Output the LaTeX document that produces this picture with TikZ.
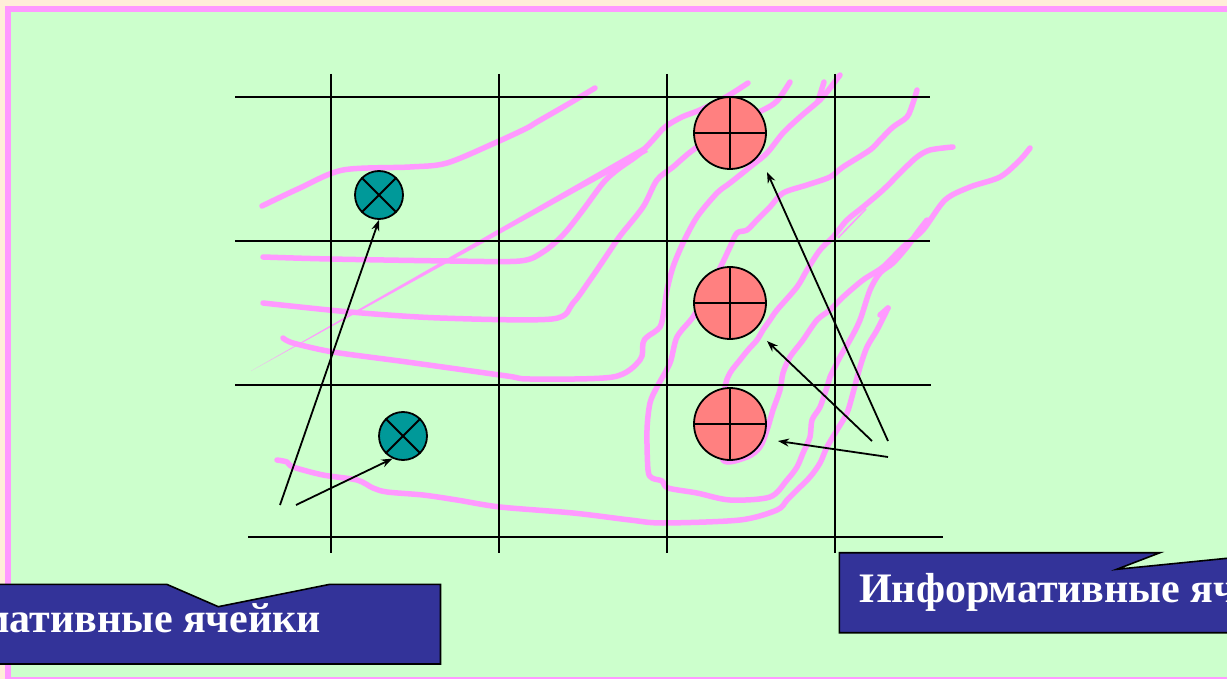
\documentclass[tikz,border=0pt]{standalone}
\usepackage{fontspec}
\setmainfont{Liberation Serif}
\usetikzlibrary{arrows.meta}
\definecolor{cream}{HTML}{FFEED8}
\definecolor{framepink}{HTML}{FF99FF}
\definecolor{bggreen}{HTML}{CCFFCC}
\definecolor{pinkline}{HTML}{FF99FF}
\definecolor{tealc}{HTML}{009999}
\definecolor{salmon}{HTML}{FF8080}
\definecolor{boxblue}{HTML}{333399}
\begin{document}
\begin{tikzpicture}[x=1pt,y=-1pt,
  gridline/.style={line width=2pt,black},
  pinkcurve/.style={pinkline,line width=5.5pt,line cap=round,line join=round},
  xcell/.style={circle,draw=black,line width=1.8pt,fill=tealc,minimum size=48pt,inner sep=0pt},
  pcell/.style={circle,draw=black,line width=1.8pt,fill=salmon,minimum size=72pt,inner sep=0pt},
  crossline/.style={line width=1.8pt,black},
  pointer/.style={line width=1.8pt,black,-{Stealth[length=11pt,width=8pt]}},
  callout/.style={fill=boxblue,draw=black,line width=1.6pt},
  calltext/.style={text=white,font=\fontsize{42}{50}\selectfont\bfseries,inner sep=0pt}
]
\clip (0,0) rectangle (1227,679);
% frame
\fill[cream] (0,0) rectangle (1227,679);
\fill[framepink] (5,6) rectangle (1227,679);
\fill[bggreen] (11,12) rectangle (1227,676.5);

% pink curves
\fill[pinkline] (251,371) -- (644,146) -- (648,152) -- cycle;
\draw[pinkcurve] plot[smooth,tension=0.5] coordinates {(262,206) (300,188) (343,170) (410,167) (447,163) (497,142) (527,128) (537,122) (570,103) (595,88)};
\draw[pinkcurve] plot[smooth,tension=0.5] coordinates {(263,257) (330,259) (450,261) (520,261) (543,252) (563,235) (583,210) (603,183) (617,170) (638,155) (652,141) (665,127) (682,117) (700,110) (726,97) (748,83)};
\draw[pinkcurve] plot[smooth,tension=0.5] coordinates {(263,303) (350,312) (440,318) (552,319) (573,303) (590,280) (605,258) (620,236) (643,207) (657,180) (673,167) (693,150) (730,125) (763,110) (777,101) (790,82)};
\draw[pinkcurve] plot[smooth,tension=0.5] coordinates {(283,338) (293,343) (333,352) (407,362) (507,376) (530,379) (613,377) (640,360) (643,343) (647,337) (660,327) (664,310) (667,290) (673,267) (683,243) (697,217) (717,193) (730,183) (750,167) (767,153) (783,133) (800,117) (820,100) (827,92) (840,75)};
\draw[pinkcurve] (818,101) -- (824,82);
\draw[pinkcurve] plot[smooth,tension=0.5] coordinates {(917,90) (913,103) (907,117) (893,127) (880,140) (870,150) (843,167) (830,177) (807,185) (783,193) (770,207) (757,220) (747,230) (737,233) (730,247) (720,268) (705,295) (693,317) (677,337) (670,363) (657,387) (650,403) (647,430) (648,470) (652,478) (662,481) (668,488) (697,493) (730,500) (770,497) (787,480) (797,467) (803,453) (810,437) (812,420) (820,407) (827,387) (830,377) (840,357) (850,340) (860,320) (870,290) (880,273) (893,263) (907,247) (917,233) (927,220)};
\draw[pinkcurve] plot[smooth,tension=0.5] coordinates {(277,460) (287,462) (293,467) (323,475) (357,480) (373,488) (387,492) (423,495) (457,500) (500,507) (573,513) (630,520) (663,523) (740,520) (777,510) (787,500) (797,490) (810,477) (820,463) (827,447) (837,430) (847,413) (853,393) (860,367) (867,347) (877,330) (888,308)};
\draw[pinkcurve] (888,308) -- (880,315);
\draw[pinkcurve] plot[smooth,tension=0.5] coordinates {(953,147) (930,150) (917,157) (903,170) (883,190) (863,207) (847,220) (833,237) (820,250) (807,270) (797,287) (777,310) (770,320) (763,330) (757,340) (748,350) (740,360) (730,373) (725,387) (722,420) (723,460) (747,457) (760,447) (767,430) (773,410) (780,390) (783,373) (790,357) (803,340) (817,320) (830,310) (843,297) (863,280) (883,267) (903,247) (923,230) (945,200) (970,187) (1000,177) (1020,160) (1030,148)};
\draw[pinkline,line width=1.5pt] (838,238) -- (866,209);

% grid
\draw[gridline] (235,97) -- (930,97);
\draw[gridline] (235,241) -- (930,241);
\draw[gridline] (235,385) -- (931,385);
\draw[gridline] (248,537) -- (943,537);
\draw[gridline] (331,74) -- (331,553);
\draw[gridline] (499,74) -- (499,553);
\draw[gridline] (667,74) -- (667,553);
\draw[gridline] (835,74) -- (835,553);

% cells
\node[xcell] (t1) at (379,195) {};
\node[xcell] (t2) at (403,436) {};
\foreach \n in {t1,t2} {
  \draw[crossline] (\n.north west) -- (\n.south east);
  \draw[crossline] (\n.north east) -- (\n.south west);
}
\node[pcell] (s1) at (730,133) {};
\node[pcell] (s2) at (730,303) {};
\node[pcell] (s3) at (730,424) {};
\foreach \n in {s1,s2,s3} {
  \draw[crossline] (\n.north) -- (\n.south);
  \draw[crossline] (\n.west) -- (\n.east);
}

% arrows
\coordinate (la) at (280,505);
\coordinate (lb) at (296,505);
\coordinate (ra) at (888,441);
\coordinate (rb) at (872,441);
\coordinate (rc) at (888,457);
\coordinate (ta) at (767,172);
\coordinate (tb) at (767,341);
\coordinate (tc) at (778,441);
\draw[pointer] (la) -- (t1.south);
\draw[pointer] (lb) -- (t2.245);
\draw[pointer] (ra) -- (ta);
\draw[pointer] (rb) -- (tb);
\draw[pointer] (rc) -- (tc);

% callouts
\draw[callout] (-10,584.3) -- (166.7,584.3) -- (218.3,606.7) -- (330,584.3) -- (440.5,584.3) -- (440.5,664) -- (-10,664) -- cycle;
\node[calltext,anchor=base east] (lefttext) at (321,632) {Информативные ячейки};
\draw[callout] (839.3,552.7) -- (1160,552.7) -- (1116.7,569.3) -- (1240,557) -- (1240,632.7) -- (839.3,632.7) -- cycle;
\node[calltext,anchor=base west] (righttext) at (859,602) {Информативные ячейки};
\end{tikzpicture}
\end{document}
